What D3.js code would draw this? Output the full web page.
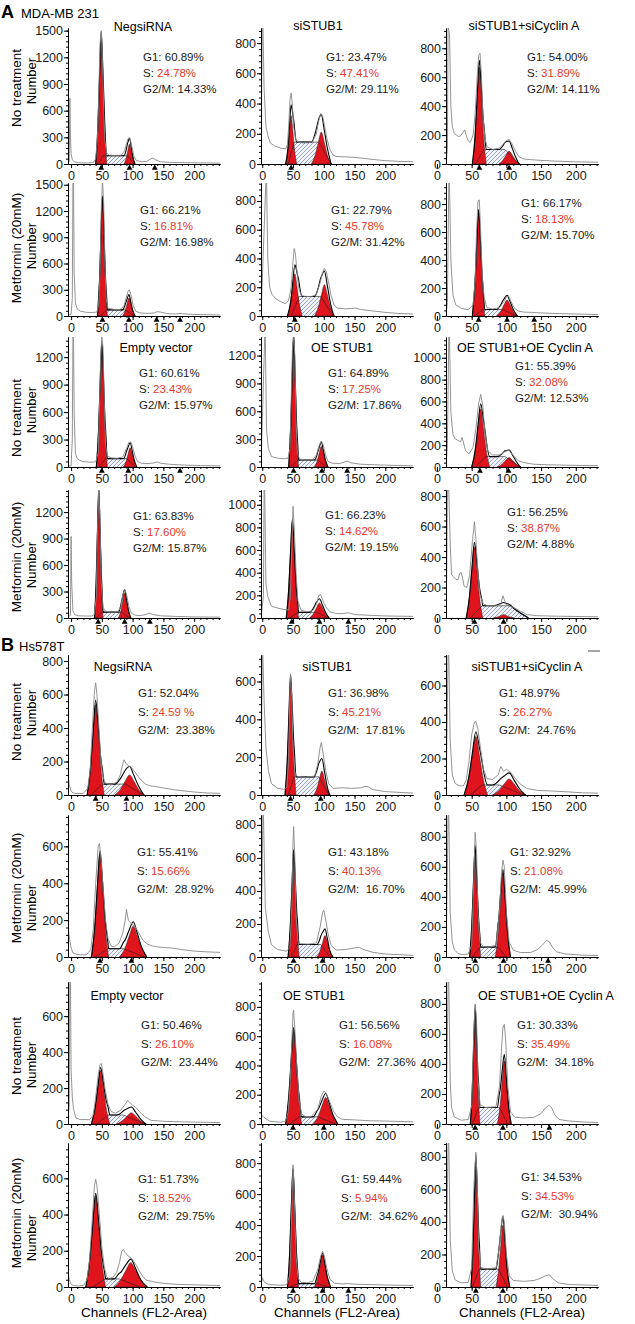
<!DOCTYPE html>
<html>
<head>
<meta charset="utf-8">
<script src="https://cdn.jsdelivr.net/npm/d3@7"></script>
<style>
body { margin: 0; background: #fff; }
svg text { font-family: "Liberation Sans", Arial, Helvetica, sans-serif; }
</style>
</head>
<body>
<svg id="fig" width="635" height="1324"></svg>
<script>
// panels run A (rows 0-3, cols 0-2) then B, left to right
const sectionLetters = ["A", "B"];
const cellLines = ["MDA-MB 231", "Hs578T"];
const conditions = ["NegsiRNA", "siSTUB1", "siSTUB1+siCyclin A", "Empty vector", "OE STUB1", "OE STUB1+OE Cyclin A"];
const treatments = ["No treatment", "Metformin (20mM)", "No treatment", "Metformin (20mM)"];

const g1Pct = ["60.89%", "23.47%", "54.00%", "66.21%", "22.79%", "66.17%", "60.61%", "64.89%", "55.39%", "63.83%", "66.23%", "56.25%",
               "52.04%", "36.98%", "48.97%", "55.41%", "43.18%", "32.92%", "50.46%", "56.56%", "30.33%", "51.73%", "59.44%", "34.53%"];
const sPct  = ["24.78%", "47.41%", "31.89%", "16.81%", "45.78%", "18.13%", "23.43%", "17.25%", "32.08%", "17.60%", "14.62%", "38.87%",
               "24.59 %", "45.21%", "26.27%", "15.66%", "40.13%", "21.08%", "26.10%", "16.08%", "35.49%", "18.52%", "5.94%", "34.53%"];
const g2Pct = ["14.33%", "29.11%", "14.11%", "16.98%", "31.42%", "15.70%", "15.97%", "17.86%", "12.53%", "15.87%", "19.15%", "4.88%",
               "23.38%", "17.81%", "24.76%", "28.92%", "16.70%", "45.99%", "23.44%", "27.36%", "34.18%", "29.75%", "34.62%", "30.94%"];

const xTickValues = [0, 50, 100, 150, 200];
const yTops  = [1530, 900, 940, 1520, 925, 950, 1420, 1400, 1190, 1450, 1130, 840,
                836, 740, 767, 770, 860, 945, 790, 970, 946, 795, 930, 886];
const yStep  = [300, 200, 200, 300, 200, 200, 300, 300, 200, 300, 200, 200,
                200, 200, 200, 200, 200, 200, 200, 200, 200, 200, 200, 200];

// fitted components: [channel, height, half base width]
const g1Fit = [[49,1430,9],[47,320,9],[61,671,10],[51,1345,8],[53,293,12],[60,737,9],[50,1330,9],[51,1394,8],[63,532,13],[45,1440,7],[49,853,10],[54,468,12],
               [40,540,14],[46,600,9],[56,321,17],[47,560,14],[51,620,9],[55,720,8],[48,298,15],[51,640,13],[55,740,7],[40,506,16],[50,760,9],[56,760,7]];
const g2Fit = [[95,226,9],[96,211,16],[104,89,15],[94,205,10],[101,218,16],[101,115,15],[96,209,11],[96,224,11],[104,86,17],[87,281,10],[93,132,16],[96,22,15],
               [95,120,24],[97,127,13],[104,88,24],[101,167,22],[102,130,13],[95,556,11],[98,63,24],[103,181,20],[97,419,10],[97,134,27],[98,206,13],[95,380,10]];
const sLevel = [93, 145, 100, 70, 136, 46, 92, 75, 95, 67, 50, 80,
                65, 96, 55, 45, 76, 66, 50, 49, 110, 45, 22, 110];
const sSpan = [[44,52,92,102],[42,52,92,112],[55,68,98,118],[46,58,88,102],[47,60,95,115],[54,66,95,115],[45,56,90,105],[46,58,90,105],[56,70,98,120],[41,50,82,95],[44,58,88,108],[48,65,105,132],
               [33,51,88,118],[42,52,92,108],[48,65,90,125],[40,60,85,120],[47,57,95,110],[51,62,88,100],[42,60,85,120],[45,60,90,120],[51,60,90,102],[35,55,78,112],[45,58,90,108],[51,61,89,101]];

// raw histograms [channel, count]
const rawCounts = [
  [[-5,10],[-3,30],[-2,740],[-1,300],[0,120],[2,50],[5,25],[12,14],[25,12],[36,15],[40,60],[43,300],[45,800],[47,1350],[49,1500],[51,1200],[53,600],[55,250],[58,120],[62,100],[72,96],[82,100],[87,150],[90,230],[93,290],[96,280],[99,190],[102,90],[106,40],[115,25],[123,30],[130,60],[133,66],[138,45],[145,25],[160,18],[190,14],[220,12],[242,10]],
  [[-2,0],[0,950],[1,950],[3,500],[6,250],[9,190],[13,140],[20,120],[30,105],[38,100],[41,130],[43,250],[45,420],[47,470],[49,390],[51,250],[54,170],[58,145],[65,140],[75,140],[82,150],[88,200],[92,290],[95,335],[98,320],[101,260],[105,170],[110,95],[115,60],[120,50],[130,48],[145,45],[160,40],[180,30],[200,22],[220,18],[245,15]],
  [[13,0],[15,100],[16,950],[18,900],[20,400],[22,260],[25,210],[28,200],[31,190],[34,195],[37,215],[40,236],[42,200],[45,160],[48,150],[52,200],[55,350],[58,600],[60,750],[62,765],[64,620],[66,350],[69,180],[72,120],[80,100],[90,110],[96,140],[101,165],[104,170],[108,140],[113,90],[118,50],[125,35],[135,30],[150,25],[170,20],[200,15],[232,12]],
  [[-5,10],[0,20],[2,200],[3,1550],[4,1550],[5,500],[7,150],[10,80],[15,55],[25,42],[35,40],[42,45],[45,150],[47,500],[49,1200],[51,1550],[53,1300],[55,600],[57,200],[60,90],[70,75],[80,75],[86,120],[90,220],[93,290],[95,300],[98,220],[101,120],[105,55],[112,35],[125,30],[135,35],[140,50],[145,45],[155,28],[170,22],[177,30],[182,25],[200,18],[242,12]],
  [[-2,0],[6,950],[7,950],[9,400],[12,200],[16,150],[22,120],[30,100],[38,85],[43,110],[47,200],[50,380],[52,470],[54,430],[56,330],[59,200],[63,145],[70,135],[80,135],[88,150],[94,230],[98,300],[101,330],[104,310],[108,230],[112,140],[117,75],[122,55],[135,50],[145,52],[152,55],[160,45],[180,35],[200,25],[220,18],[245,14]],
  [[13,0],[15,100],[17,950],[18,950],[20,400],[23,150],[27,80],[35,55],[45,45],[52,80],[55,250],[57,600],[59,820],[61,830],[63,600],[65,300],[68,130],[72,60],[80,50],[90,60],[96,100],[100,135],[103,143],[106,110],[111,60],[117,35],[125,28],[140,25],[150,22],[170,18],[200,14],[232,10]],
  [[-5,10],[0,15],[2,300],[3,1420],[4,1420],[5,600],[7,150],[10,90],[18,60],[30,52],[40,55],[44,150],[46,600],[48,1200],[50,1420],[52,1300],[54,700],[56,250],[59,120],[65,100],[75,95],[84,110],[90,200],[94,270],[97,275],[100,220],[104,120],[108,60],[115,40],[125,38],[135,45],[140,55],[146,40],[160,30],[180,22],[210,16],[242,12]],
  [[-2,0],[4,1400],[5,1400],[7,400],[10,200],[15,112],[25,95],[35,90],[42,95],[45,200],[47,700],[49,1250],[51,1440],[53,1200],[55,500],[57,150],[61,85],[70,75],[82,80],[88,130],[93,240],[96,280],[99,240],[103,130],[107,60],[114,40],[125,38],[133,50],[138,64],[144,45],[160,30],[190,22],[220,16],[245,12]],
  [[13,0],[15,200],[17,1190],[18,1190],[20,500],[23,300],[26,260],[30,245],[34,230],[36,270],[38,230],[41,150],[46,120],[52,180],[56,350],[60,580],[63,665],[66,560],[69,320],[73,150],[80,110],[90,110],[98,140],[103,154],[107,130],[112,90],[118,55],[125,40],[140,25],[160,20],[200,15],[232,12]],
  [[-5,15],[-1,30],[0,925],[1,400],[3,80],[6,37],[12,25],[25,22],[33,22],[38,40],[41,250],[43,1000],[45,1450],[47,1100],[49,400],[52,120],[56,75],[66,65],[76,70],[81,130],[84,260],[87,326],[90,270],[94,130],[98,55],[104,32],[113,28],[122,40],[128,56],[133,40],[145,25],[170,18],[200,12],[242,10]],
  [[-2,0],[2,200],[3,1130],[4,1130],[6,300],[9,190],[15,103],[25,88],[35,75],[43,70],[46,200],[48,600],[50,985],[52,800],[55,400],[58,150],[63,70],[72,55],[82,65],[88,120],[92,200],[95,206],[98,160],[103,100],[110,55],[120,40],[130,38],[137,45],[142,44],[150,30],[170,25],[200,18],[245,14]],
  [[13,0],[14,300],[15,840],[17,840],[19,500],[21,283],[24,270],[27,255],[30,250],[33,295],[35,298],[37,260],[39,210],[43,200],[47,280],[51,500],[54,632],[56,520],[59,300],[62,150],[67,90],[75,80],[85,80],[92,90],[95,146],[97,120],[100,85],[110,70],[120,45],[130,22],[145,15],[170,12],[200,10],[232,8]],
  [[-5,130],[-3,60],[0,25],[3,12],[10,8],[20,10],[27,40],[31,150],[35,420],[38,620],[40,670],[42,600],[45,420],[48,230],[51,120],[55,75],[61,62],[68,65],[75,80],[80,120],[83,170],[86,210],[89,190],[93,175],[98,165],[103,140],[109,110],[115,85],[121,65],[128,55],[138,50],[150,42],[170,30],[200,18],[220,12],[242,10]],
  [[-2,0],[0,740],[1,740],[3,500],[6,250],[10,130],[15,60],[25,35],[35,30],[40,40],[43,200],[45,560],[46,640],[48,520],[50,250],[53,120],[57,98],[70,95],[85,100],[90,160],[94,250],[96,277],[99,220],[103,130],[108,60],[115,35],[130,38],[145,35],[160,38],[167,45],[172,44],[180,28],[200,18],[245,10]],
  [[13,0],[15,500],[16,767],[17,767],[19,300],[22,110],[26,64],[32,50],[38,50],[42,80],[46,180],[50,330],[54,400],[56,404],[59,360],[63,250],[67,140],[72,90],[80,85],[88,110],[92,156],[96,130],[100,140],[106,125],[112,95],[120,60],[130,35],[145,25],[165,22],[185,18],[210,12],[232,10]],
  [[-5,170],[-3,110],[0,50],[3,22],[8,15],[15,12],[25,12],[32,40],[36,150],[40,400],[44,600],[46,615],[48,560],[52,380],[56,200],[60,100],[65,60],[70,55],[78,75],[84,130],[88,200],[90,259],[93,200],[98,180],[104,165],[110,130],[117,90],[124,70],[132,60],[140,55],[150,52],[165,48],[180,40],[200,32],[220,28],[242,25]],
  [[-2,0],[1,860],[2,860],[5,300],[10,150],[15,75],[25,45],[40,35],[45,60],[48,300],[50,700],[51,790],[53,600],[55,250],[58,100],[63,80],[75,78],[88,85],[94,180],[98,270],[100,284],[103,230],[107,140],[112,70],[120,42],[135,45],[150,55],[158,58],[165,45],[180,28],[200,18],[245,10]],
  [[13,0],[15,600],[16,945],[17,945],[19,300],[22,100],[25,48],[30,25],[36,15],[45,20],[50,80],[53,500],[55,830],[57,700],[59,300],[62,100],[66,70],[75,65],[85,80],[90,300],[93,560],[95,645],[97,600],[100,300],[104,100],[110,45],[120,30],[135,30],[145,50],[152,80],[158,110],[162,100],[167,60],[172,35],[185,20],[210,12],[232,10]],
  [[-5,30],[-3,100],[-2,790],[-1,790],[0,300],[2,150],[4,82],[8,33],[15,25],[30,24],[36,50],[40,150],[44,270],[47,330],[49,337],[51,300],[55,200],[60,110],[65,70],[72,60],[80,75],[88,110],[92,131],[95,120],[100,105],[106,90],[112,65],[120,40],[130,20],[150,15],[180,12],[210,10],[242,8]],
  [[-2,60],[2,50],[6,35],[12,20],[20,15],[30,12],[38,20],[42,80],[45,250],[48,550],[50,760],[51,777],[53,650],[56,400],[60,160],[64,70],[70,50],[80,52],[90,100],[96,190],[100,225],[104,210],[110,150],[116,85],[122,50],[130,32],[150,28],[175,22],[200,20],[245,15]],
  [[13,0],[15,600],[16,946],[17,946],[19,300],[21,110],[25,47],[35,25],[45,30],[50,120],[53,600],[55,800],[57,700],[59,300],[62,130],[70,110],[85,115],[90,250],[93,500],[95,640],[97,664],[99,560],[102,250],[106,80],[112,45],[125,40],[140,45],[150,70],[157,110],[161,125],[165,110],[170,60],[176,30],[190,20],[215,12],[232,10]],
  [[-5,80],[-3,40],[0,15],[4,8],[12,6],[20,8],[26,40],[30,150],[34,350],[38,560],[40,594],[42,560],[46,400],[50,220],[54,110],[58,55],[62,45],[68,55],[74,80],[79,140],[82,195],[85,208],[88,190],[93,170],[98,160],[104,130],[110,95],[116,60],[122,38],[135,28],[150,20],[175,14],[200,12],[242,8]],
  [[-2,0],[0,60],[3,35],[8,20],[15,15],[30,12],[40,15],[45,80],[48,500],[50,790],[52,600],[55,200],[58,60],[63,30],[72,28],[82,35],[90,110],[95,200],[98,230],[101,200],[105,120],[110,50],[117,25],[130,20],[140,22],[150,18],[180,15],[210,12],[245,10]],
  [[13,0],[15,600],[16,886],[17,886],[19,300],[22,100],[26,45],[35,25],[45,28],[50,120],[53,600],[56,830],[58,650],[60,250],[63,120],[72,110],[85,118],[90,250],[93,400],[95,440],[97,400],[100,200],[104,70],[110,40],[125,35],[140,40],[150,55],[157,70],[162,75],[167,50],[175,25],[190,15],[232,10]]
];

const markerChannels = [[49,95,136],[47],[61,104],[51,94,139,177],[53],[60,101,140],[50,93,177],[51,97,138],[62,103],[44,87,128],[48,93,140],[54,96],
                        [40,90],[46,95],[],[47,98],[51,98],[55,96,160],[],[50,100],[55,95,162],[],[50,98,140],[56,95]];

// layout
const colX = [[68, 220], [261, 413], [446, 598]];
const colDomain = [[-5, 242], [-2, 245], [13, 232]];
const rowBox = [[28,164],[183,316],[337,467],[490,618],[655,795],[815,957],[982,1124],[1143,1287]];
const statsPos = [[143,61],[326,61],[527,61],[140,214],[331,214],[521,207],[139,377],[328,377],[515,370],[133,520],[325,519],[507,516],
                  [138,697],[328,697],[499,697],[137,856],[328,856],[510,856],[141,1029],[339,1029],[517,1029],[138,1183],[341,1183],[521,1181]];
const titlePos = [[[143,31],[318,30],[524,30]], [[156,352],[342,352],[525,352]], [[123,671],[327,671],[527,671]], [[127,1000],[314,1000],[546,1000]]];
const treatLabelY = [88, 248, 418, 557, 722, 888, 1056, 1213];
const numberLabelY = [81, 246, 410, 565, 713, 908, 1065, 1238];

const RED = "#e0141c";
const TXT_RED = "#e5392b";

const svg = d3.select("#fig");
const defs = svg.append("defs");
const pat = defs.append("pattern").attr("id", "hatch").attr("patternUnits", "userSpaceOnUse")
    .attr("width", 4).attr("height", 4);
pat.append("rect").attr("width", 4).attr("height", 4).attr("fill", "#f4f5fb");
pat.append("path").attr("d", "M-1,1 l2,-2 M0,4 l4,-4 M3,5 l2,-2")
    .attr("stroke", "#6c7dc0").attr("stroke-width", 0.7);

// section headings
[[18, 0], [651, 1]].forEach(([yy, s]) => {
    svg.append("text").attr("x", 1).attr("y", yy).attr("font-size", 18).attr("font-weight", "bold").text(sectionLetters[s]);
    svg.append("text").attr("x", s ? 19 : 21).attr("y", yy).attr("font-size", 13).text(cellLines[s]);
});

function peakPts(f) {
    const [c, h, w] = f;
    return [[c - w, 0], [c - 0.6 * w, 0.3 * h], [c - 0.3 * w, 0.68 * h], [c, h],
            [c + 0.3 * w, 0.68 * h], [c + 0.6 * w, 0.3 * h], [c + w, 0]];
}

for (let p = 0; p < 24; p++) {
    const sec = Math.floor(p / 12), r = Math.floor((p % 12) / 3), c = p % 3;
    const ri = sec * 4 + r;
    const [top, base] = rowBox[ri];
    const x = d3.scaleLinear().domain(colDomain[c]).range(colX[c]);
    const y = d3.scaleLinear().domain([0, yTops[p]]).range([base, top]);

    const g = svg.append("g");
    defs.append("clipPath").attr("id", "clip" + p).append("rect")
        .attr("x", colX[c][0]).attr("y", top).attr("width", colX[c][1] - colX[c][0]).attr("height", base - top);
    const plot = g.append("g").attr("clip-path", `url(#clip${p})`);

    const line = d3.line().x(d => x(d[0])).y(d => y(d[1]));
    const area = d3.area().x(d => x(d[0])).y0(y(0)).y1(d => y(d[1]));

    const p1 = peakPts(g1Fit[p]), p2 = peakPts(g2Fit[p]);
    const sp = sSpan[p], sl = sLevel[p];
    const sPts = [[sp[0], 0], [sp[1], sl], [sp[2], sl], [sp[3], 0]];

    // S phase (hatched)
    plot.append("path").datum(sPts).attr("d", area).attr("fill", "url(#hatch)");
    // G1 and G2 peaks
    [p1, p2].forEach(pts => {
        plot.append("path").attr("d", area.curve(d3.curveMonotoneX)(pts))
            .attr("fill", RED).attr("stroke", "#222").attr("stroke-width", 0.5);
    });
    area.curve(d3.curveLinear);
    plot.append("path").datum(sPts).attr("d", line).attr("fill", "none")
        .attr("stroke", "#222").attr("stroke-width", 0.6);

    // fitted sum
    const f1 = d3.scaleLinear().domain(p1.map(d => d[0])).range(p1.map(d => d[1])).clamp(true);
    const f2 = d3.scaleLinear().domain(p2.map(d => d[0])).range(p2.map(d => d[1])).clamp(true);
    const fs = d3.scaleLinear().domain(sp).range([0, sl, sl, 0]).clamp(true);
    const xs = Array.from(new Set(p1.concat(p2, sPts).map(d => d[0]))).sort((a, b) => a - b);
    const env = xs.map(v => [v, f1(v) + f2(v) + fs(v)]);
    plot.append("path").datum(env).attr("d", line.curve(d3.curveMonotoneX)).attr("fill", "none")
        .attr("stroke", "#000").attr("stroke-width", 1.1);
    line.curve(d3.curveLinear);

    // raw histogram
    plot.append("path").datum(rawCounts[p]).attr("d", line).attr("fill", "none")
        .attr("stroke", "#888").attr("stroke-width", 0.9);

    // axes
    const yMajor = d3.range(0, yTops[p] + 1, yStep[p]);
    const yMinor = d3.range(0, yTops[p] + 1, yStep[p] / 5);
    const xMinor = d3.range(0, 241, 10).filter(v => v >= colDomain[c][0] && v <= colDomain[c][1]);
    g.append("g").attr("transform", `translate(${colX[c][0]},0)`)
        .call(d3.axisLeft(y).tickValues(yMinor).tickSize(2).tickSizeOuter(0).tickFormat(""));
    const ya = g.append("g").attr("transform", `translate(${colX[c][0]},0)`)
        .call(d3.axisLeft(y).tickValues(yMajor).tickSize(4).tickSizeOuter(0).tickPadding(1).tickFormat(d3.format("d")));
    g.append("g").attr("transform", `translate(0,${base})`)
        .call(d3.axisBottom(x).tickValues(xMinor).tickSize(2).tickSizeOuter(0).tickFormat(""));
    const xa = g.append("g").attr("transform", `translate(0,${base})`)
        .call(d3.axisBottom(x).tickValues(xTickValues).tickSize(4).tickSizeOuter(0).tickPadding(3).tickFormat(d3.format("d")));
    [ya, xa].forEach(a => a.attr("font-size", 12.5).attr("font-family", null).selectAll("text").attr("fill", "#1a1a1a"));

    // peak markers
    g.selectAll(".mk").data(markerChannels[p]).join("path")
        .attr("d", d3.symbol(d3.symbolTriangle, 15))
        .attr("transform", d => `translate(${x(d)},${base + 4})`)
        .attr("fill", "#000");

    // percentages
    const [sx, sy] = statsPos[p];
    const lh = sec ? 18.5 : 16;
    const st = g.append("g").attr("font-size", 11.5).attr("fill", "#1a1a1a");
    st.append("text").attr("x", sx).attr("y", sy).text("G1: " + g1Pct[p]);
    const sTxt = st.append("text").attr("x", sx).attr("y", sy + lh);
    sTxt.append("tspan").text("S: ");
    sTxt.append("tspan").attr("fill", TXT_RED).text(sPct[p]);
    st.append("text").attr("x", sx).attr("y", sy + 2 * lh).text("G2/M:" + (sec ? "\u00a0 " : " ") + g2Pct[p]);

    // titles on the first and third row of each block
    if (r === 0 || r === 2) {
        const tp = titlePos[sec * 2 + r / 2][c];
        g.append("text").attr("x", tp[0]).attr("y", tp[1]).attr("text-anchor", "middle")
            .attr("font-size", 12.5).text(conditions[(r / 2) * 3 + c]);
    }

    // row labels
    if (c === 0) {
        g.append("text").attr("transform", `translate(21,${treatLabelY[ri]}) rotate(-90)`)
            .attr("text-anchor", "middle").attr("font-size", 13.5).text(treatments[r]);
        g.append("text").attr("transform", `translate(36,${numberLabelY[ri]}) rotate(-90)`)
            .attr("text-anchor", "middle").attr("font-size", 13).text("Number");
    }

    if (ri === 7) {
        g.append("text").attr("x", (colX[c][0] + colX[c][1]) / 2).attr("y", 1317)
            .attr("text-anchor", "middle").attr("font-size", 13.5).text("Channels (FL2-Area)");
    }
}

// small stray mark above the B top-right panel
svg.append("line").attr("x1", 588).attr("x2", 600).attr("y1", 651).attr("y2", 651)
    .attr("stroke", "#888").attr("stroke-width", 1.5);
</script>
</body>
</html>
